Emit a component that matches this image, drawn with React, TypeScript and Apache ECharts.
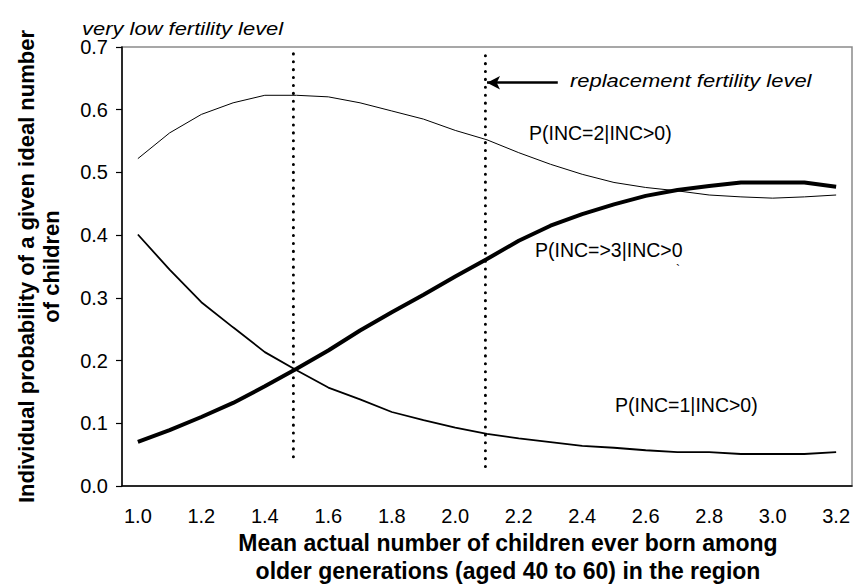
import React, { useEffect, useRef } from "react";
import * as echarts from "echarts";

const categories = [
  "1.0", "1.1", "1.2", "1.3", "1.4", "1.5", "1.6", "1.7", "1.8", "1.9", "2.0", "2.1",
  "2.2", "2.3", "2.4", "2.5", "2.6", "2.7", "2.8", "2.9", "3.0", "3.1", "3.2",
];

const pInc1 = [
  0.401, 0.345, 0.293, 0.253, 0.2135, 0.1845, 0.157, 0.138, 0.118, 0.105, 0.093, 0.083,
  0.076, 0.07, 0.064, 0.061, 0.057, 0.054, 0.054, 0.051, 0.051, 0.051, 0.054,
];

const pInc2 = [
  0.522, 0.563, 0.5925, 0.611, 0.623, 0.623, 0.6205, 0.611, 0.598, 0.585, 0.567, 0.552,
  0.5315, 0.513, 0.497, 0.484, 0.476, 0.4706, 0.464, 0.461, 0.459, 0.461, 0.464,
];

const pInc3 = [
  0.0705, 0.089, 0.11, 0.1325, 0.159, 0.187, 0.216, 0.248, 0.277, 0.305, 0.334, 0.362,
  0.391, 0.415, 0.4335, 0.449, 0.4626, 0.472, 0.4785, 0.4838, 0.4838, 0.4838, 0.477,
];

// vertical reference lines: [x, yBottom, yTop]
const veryLowLine = [1.49, 0.0466, 0.695];
const replacementLine = [2.095, 0.031, 0.695];
// arrow: [xFrom, xTo, y]
const arrowSpec = [2.1, 2.323, 0.643];

const xTitle = "Mean actual number of children ever born among\nolder generations (aged 40 to 60) in the region";
const yTitle = "Individual probability of a given ideal number\nof children";

const FONT = "'Liberation Sans', Arial, sans-serif";

export default function App() {
  const ref = useRef<HTMLDivElement>(null);
  useEffect(() => {
    if (!ref.current) return;
    const chart = echarts.init(ref.current, undefined, { renderer: "svg" });
    const dotted = {
      width: 3,
      color: "#000",
      type: [0.1, 7.8] as any,
      cap: "round" as const,
    };
    const italic = (text: string, x: number, y: number) => ({
      type: "text",
      x,
      y,
      scaleX: 1.22,
      style: {
        text,
        fontSize: 18,
        fontStyle: "italic",
        fontFamily: FONT,
        fill: "#000",
        verticalAlign: "middle",
        align: "left",
      },
    });
    const label = (text: string, x: number, y: number) => ({
      type: "text",
      x,
      y,
      style: {
        text,
        fontSize: 19.5,
        fontFamily: FONT,
        fill: "#000",
        verticalAlign: "middle",
        align: "left",
      },
    });
    chart.setOption({
      animation: false,
      backgroundColor: "#fff",
      textStyle: { fontFamily: FONT },
      grid: {
        left: 122,
        right: 2,
        top: 47,
        bottom: 99,
        show: true,
        borderColor: "#8a8a8a",
        borderWidth: 1.5,
      },
      xAxis: [
        {
          type: "category",
          data: categories,
          boundaryGap: true,
          axisLine: { lineStyle: { color: "#000", width: 1.5 } },
          axisTick: { interval: 0, length: 6, lineStyle: { color: "#000", width: 1.2 } },
          axisLabel: {
            interval: 1,
            color: "#000",
            fontSize: 20,
            margin: 20,
            fontFamily: FONT,
          },
        },
        {
          type: "value",
          min: 0.95,
          max: 3.25,
          show: false,
        },
      ],
      yAxis: {
        type: "value",
        min: 0,
        max: 0.7,
        interval: 0.1,
        splitLine: { show: false },
        axisLine: { show: true, lineStyle: { color: "#000", width: 1.5 } },
        axisTick: { show: true, length: 6, lineStyle: { color: "#000", width: 1.2 } },
        axisLabel: {
          color: "#000",
          fontSize: 20,
          margin: 14,
          fontFamily: FONT,
          formatter: (v: number) => v.toFixed(1),
        },
        name: yTitle,
        nameLocation: "middle",
        nameGap: 58,
        nameTextStyle: {
          color: "#000",
          fontWeight: "bold",
          fontSize: 22,
          lineHeight: 25,
          fontFamily: FONT,
        },
      },
      series: [
        {
          name: "P(INC=2|INC>0)",
          type: "line",
          data: pInc2,
          symbol: "none",
          lineStyle: { color: "#000", width: 1 },
        },
        {
          name: "P(INC=1|INC>0)",
          type: "line",
          data: pInc1,
          symbol: "none",
          lineStyle: { color: "#000", width: 1.8 },
        },
        {
          name: "P(INC=>3|INC>0)",
          type: "line",
          data: pInc3,
          symbol: "none",
          lineStyle: { color: "#000", width: 4 },
        },
        {
          name: "very low",
          type: "line",
          xAxisIndex: 1,
          data: [
            [veryLowLine[0], veryLowLine[1]],
            [veryLowLine[0], veryLowLine[2]],
          ],
          symbol: "none",
          lineStyle: dotted,
        },
        {
          name: "replacement",
          type: "line",
          xAxisIndex: 1,
          data: [
            [replacementLine[0], replacementLine[1]],
            [replacementLine[0], replacementLine[2]],
          ],
          symbol: "none",
          lineStyle: dotted,
          markLine: {
            silent: true,
            symbol: ["arrow", "none"],
            symbolSize: [10, 13],
            label: { show: false },
            lineStyle: { color: "#000", width: 2.5, type: "solid" },
            data: [
              [
                { coord: [arrowSpec[0], arrowSpec[2]] },
                { coord: [arrowSpec[1], arrowSpec[2]] },
              ],
            ],
          },
        },
      ],
      graphic: [
        italic("very low fertility level", 82, 28.5),
        italic("replacement fertility level", 570, 81),
        label("P(INC=2|INC>0)", 529, 133.3),
        label("P(INC=>3|INC>0", 535, 250),
        label("P(INC=1|INC>0)", 615, 405),
        {
          type: "text",
          x: 676,
          y: 270,
          style: { text: "`", fontSize: 12, fontFamily: FONT, fill: "#000", verticalAlign: "middle" },
        },
        {
          type: "text",
          x: 508,
          y: 528.5,
          style: {
            text: xTitle,
            fontSize: 23,
            fontWeight: "bold",
            lineHeight: 28,
            fontFamily: FONT,
            fill: "#000",
            align: "center",
            verticalAlign: "top",
          },
        },
      ],
    });
    return () => chart.dispose();
  }, []);
  return <div ref={ref} style={{ width: 854, height: 585, position: "absolute", left: 0, top: 0 }} />;
}
